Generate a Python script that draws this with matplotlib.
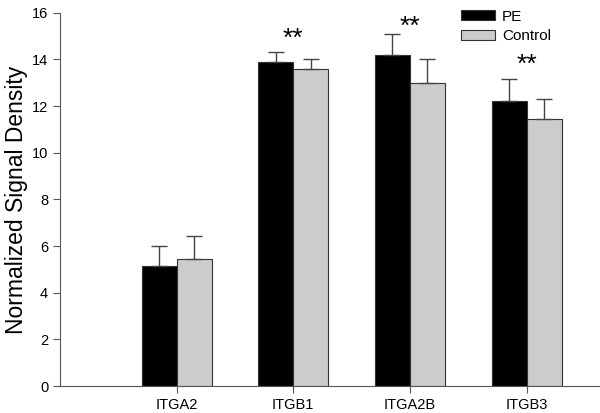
import numpy as np
import matplotlib.pyplot as plt

plt.rcParams['font.family'] = ['Liberation Sans', 'DejaVu Sans']

# data
genes = ['ITGA2', 'ITGB1', 'ITGA2B', 'ITGB3']
pe = [5.15, 13.9, 14.2, 12.2]
pe_err = [0.85, 0.4, 0.9, 0.95]
control = [5.45, 13.6, 13.0, 11.45]
control_err = [1.0, 0.4, 1.0, 0.85]
signif = ['', '**', '**', '**']
signif_y = [0, 14.9, 15.4, 13.75]   # height of the asterisk labels

x = np.arange(1, len(genes) + 1)
w = 0.3

fig = plt.figure(figsize=(6, 4.13), dpi=100)
ax = fig.add_axes([0.1, 0.065, 0.9, 0.904])

ax.bar(x - w / 2, pe, w, color='black', edgecolor='#333333', linewidth=0.8,
       yerr=[np.zeros(4), pe_err], ecolor='#444444', capsize=6,
       error_kw={'elinewidth': 1}, label='PE', zorder=2)
ax.bar(x + w / 2, control, w, color='#cccccc', edgecolor='#333333', linewidth=0.8,
       yerr=[np.zeros(4), control_err], ecolor='#444444', capsize=6,
       error_kw={'elinewidth': 1}, label='Control', zorder=2)

# significance asterisks
for xi, s, sy in zip(x, signif, signif_y):
    if s:
        ax.text(xi, sy, s, ha='center', va='center', fontsize=19)

ax.set_xlim(0, 4.63)
ax.set_ylim(0, 16)
ax.set_yticks(range(0, 17, 2))
ax.set_xticks(x)
ax.set_xticklabels(genes, fontsize=10.5)
ax.tick_params(axis='y', labelsize=10.5, direction='out', length=5, color='#555555')
ax.tick_params(axis='x', direction='out', length=5, color='#555555')
ax.set_ylabel('Normalized Signal Density', fontsize=16.5, labelpad=3)

for side in ['top', 'right']:
    ax.spines[side].set_visible(False)
for side in ['left', 'bottom']:
    ax.spines[side].set_color('#555555')

ax.legend(loc='upper right', bbox_to_anchor=(0.935, 1.045), frameon=False,
          fontsize=11, handlelength=2.2, handleheight=0.65, labelspacing=0.35,
          handletextpad=0.5)

fig.savefig('out.png', dpi=100)
